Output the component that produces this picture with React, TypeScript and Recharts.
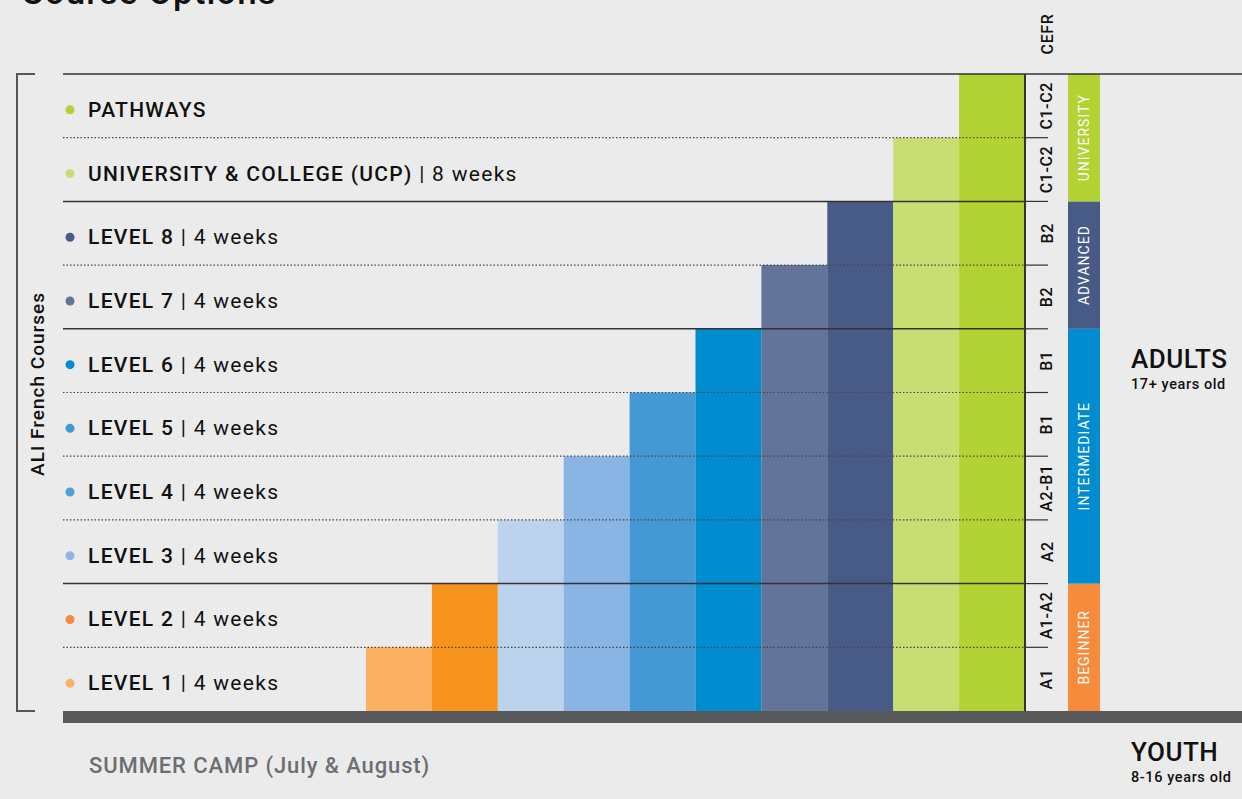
import React from 'react';
import { BarChart, Bar, XAxis, YAxis, Cell, ReferenceLine, ReferenceArea } from 'recharts';

// rows from bottom (Level 1) to top (Pathways)
const courseNames = [
  'LEVEL 1', 'LEVEL 2', 'LEVEL 3', 'LEVEL 4', 'LEVEL 5',
  'LEVEL 6', 'LEVEL 7', 'LEVEL 8', 'UNIVERSITY & COLLEGE (UCP)', 'PATHWAYS',
];
const durations = ['4 weeks', '4 weeks', '4 weeks', '4 weeks', '4 weeks', '4 weeks', '4 weeks', '4 weeks', '8 weeks', ''];
const rowsCovered = [1, 2, 3, 4, 5, 6, 7, 8, 9, 10];
const barColors = ['#fbb062', '#f7941d', '#bcd3ee', '#8ab4e3', '#4499d5', '#008ccf', '#63749b', '#485b86', '#c9de72', '#b3d234'];
const dotColors = ['#fbb062', '#f58a3c', '#8fb7e3', '#4f9fd9', '#4499d5', '#008ccf', '#63749b', '#485b86', '#c9de72', '#b3d234'];
const cefrLevels = ['A1', 'A1-A2', 'A2', 'A2-B1', 'B1', 'B1', 'B2', 'B2', 'C1-C2', 'C1-C2'];
const rowTicks = [0.5, 1.5, 2.5, 3.5, 4.5, 5.5, 6.5, 7.5, 8.5, 9.5];
const boundaries = [1, 2, 3, 4, 5, 6, 7, 8, 9, 10];
const boundaryKinds = ['dotted', 'solid', 'dotted', 'dotted', 'dotted', 'solid', 'dotted', 'solid', 'dotted', 'top'];
const stageNames = ['BEGINNER', 'INTERMEDIATE', 'ADVANCED', 'UNIVERSITY'];
const stageFrom = [0, 2, 6, 8];
const stageTo = [2, 6, 8, 10];
const stageColors = ['#f68b3c', '#008ccf', '#485b86', '#b3d234'];

const data = courseNames.map((name, i) => ({ name, rows: rowsCovered[i] }));

const FONT = 'Roboto, "Open Sans", sans-serif';
const CEFR_X = 1047;

// left labels plus the CEFR label of the same row
const RowTick = (props: any) => {
  const { x, y, payload } = props;
  const i = rowTicks.indexOf(payload.value);
  if (i < 0) return null;
  return (
    <g>
      <circle cx={x - 1} cy={y + 4} r={4.5} fill={dotColors[i]} />
      <text x={x + 17} y={y + 11} fontFamily={FONT} fontSize={21} letterSpacing={1.3} fill="#111">
        <tspan fontWeight={500}>{courseNames[i]}</tspan>
        {durations[i] && <tspan fontWeight={400}>{' | ' + durations[i]}</tspan>}
      </text>
      <text
        x={CEFR_X}
        y={y}
        transform={`rotate(-90 ${CEFR_X} ${y})`}
        textAnchor="middle"
        dominantBaseline="central"
        fontFamily={FONT}
        fontSize={16}
        fontWeight={500}
        letterSpacing={0.6}
        fill="#111"
      >
        {cefrLevels[i]}
      </text>
    </g>
  );
};

const boundaryShape = (kind: string) => (p: any) => {
  const { x1, x2, y1 } = p;
  if (kind === 'top') {
    return <line x1={x1} x2={1242} y1={y1} y2={y1} stroke="#333" strokeWidth={1.5} />;
  }
  return (
    <g>
      <line
        x1={x1}
        x2={x2}
        y1={y1}
        y2={y1}
        stroke={kind === 'solid' ? '#333' : '#444'}
        strokeWidth={kind === 'solid' ? 1.5 : 1.2}
        strokeDasharray={kind === 'solid' ? undefined : '1.5 2'}
      />
      <line x1={x2} x2={x2 + 23} y1={y1} y2={y1} stroke="#333" strokeWidth={1.2} />
    </g>
  );
};

const stageShape = (i: number) => (p: any) => {
  const { x, y, width, height } = p;
  const bx = x + width + 43;
  const cx = bx + 16;
  const cy = y + height / 2;
  return (
    <g>
      <rect x={bx} y={y} width={32} height={height} fill={stageColors[i]} />
      <text
        x={cx}
        y={cy}
        transform={`rotate(-90 ${cx} ${cy})`}
        textAnchor="middle"
        dominantBaseline="central"
        fontFamily={FONT}
        fontSize={14}
        letterSpacing={1}
        fill="#fff"
      >
        {stageNames[i]}
      </text>
    </g>
  );
};

export default function App() {
  return (
    <div style={{ position: 'absolute', left: 0, top: 0, width: 1242, height: 799, background: '#ebebeb', overflow: 'hidden' }}>
      <BarChart
        width={1242}
        height={799}
        data={data}
        margin={{ top: 74, right: 192, bottom: 88, left: 63 }}
        barCategoryGap={0}
        barGap={0}
      >
        <XAxis dataKey="name" hide padding={{ left: 303, right: 0 }} />
        <YAxis
          yAxisId="rows"
          type="number"
          domain={[0, 10]}
          ticks={rowTicks}
          interval={0}
          mirror
          axisLine={false}
          tickLine={false}
          tick={<RowTick />}
        />
        <YAxis
          yAxisId="cefr"
          orientation="right"
          type="number"
          domain={[0, 10]}
          width={25}
          axisLine={{ stroke: '#333', strokeWidth: 2 }}
          tickLine={false}
          tick={false}
        />
        <Bar dataKey="rows" yAxisId="rows" isAnimationActive={false}>
          {data.map((d, i) => (
            <Cell key={d.name} fill={barColors[i]} />
          ))}
        </Bar>
        {stageNames.map((s, i) => (
          <ReferenceArea key={s} yAxisId="rows" y1={stageFrom[i]} y2={stageTo[i]} ifOverflow="visible" shape={stageShape(i)} />
        ))}
        {boundaries.map((b, i) => (
          <ReferenceLine key={b} yAxisId="rows" y={b} ifOverflow="visible" shape={boundaryShape(boundaryKinds[i])} />
        ))}
        <text x={21} y={4} fontFamily={FONT} fontSize={35} fontWeight={500} letterSpacing={1} fill="#111">Course Options</text>
        <path d="M35,74 H17 V711 H35" fill="none" stroke="#555" strokeWidth={2} />
        <text x={37} y={384} transform="rotate(-90 37 384)" textAnchor="middle" dominantBaseline="central" fontFamily={FONT} fontSize={19} fontWeight={500} letterSpacing={1} fill="#111">
          ALI French Courses
        </text>
        <text x={1047} y={34} transform="rotate(-90 1047 34)" textAnchor="middle" dominantBaseline="central" fontFamily={FONT} fontSize={16} fontWeight={500} letterSpacing={0.6} fill="#111">
          CEFR
        </text>
        <rect x={63} y={711} width={1179} height={12} fill="#58595b" />
        <text x={1131} y={368} fontFamily={FONT} fontSize={26} fontWeight={500} letterSpacing={0.5} fill="#111">ADULTS</text>
        <text x={1131} y={389} fontFamily={FONT} fontSize={14.5} fontWeight={500} letterSpacing={0.6} fill="#111">17+ years old</text>
        <text x={1131} y={761} fontFamily={FONT} fontSize={26} fontWeight={500} letterSpacing={0.5} fill="#111">YOUTH</text>
        <text x={1131} y={782} fontFamily={FONT} fontSize={14.5} fontWeight={500} letterSpacing={0.6} fill="#111">8-16 years old</text>
        <text x={89} y={773} fontFamily={FONT} fontSize={22} fontWeight={500} letterSpacing={0.9} fill="#6d6e71">SUMMER CAMP (July &amp; August)</text>
      </BarChart>
    </div>
  );
}
